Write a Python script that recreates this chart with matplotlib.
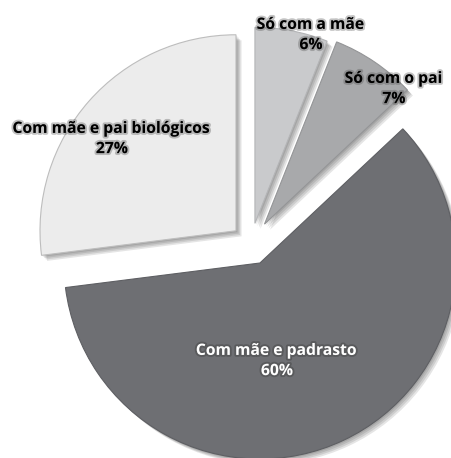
import matplotlib.pyplot as plt
import matplotlib.patheffects as pe

# Living arrangement shares (%)
labels = ["Só com a mãe", "Só com o pai", "Com mãe e padrasto", "Com mãe e pai biológicos"]
shares = [6, 7, 60, 27]
colors = ["#c9cacc", "#a8a9ab", "#6e6f73", "#ececec"]
edges = ["#b4b5b7", "#949597", "#5e5f63", "#bdbdbd"]

fig = plt.figure(figsize=(4.52, 4.58), dpi=100)
ax = fig.add_axes([0, 0, 1, 1])

wedges, _ = ax.pie(shares, colors=colors, startangle=90, counterclock=False,
                   center=(251, 214), radius=196, explode=[21, 24, 21, 20],
                   wedgeprops=dict(linewidth=0.8), frame=True)

# pixel-like coordinates, y pointing up
ax.set_xlim(0, 452)
ax.set_ylim(0, 458)
ax.set_aspect("equal")
ax.axis("off")

# soft drop shadow built from a few faint offset copies
shadow = [pe.SimplePatchShadow(offset=(d, -d), shadow_rgbFace="black", alpha=0.10)
          for d in (1, 2, 3, 4)]
for w, ec in zip(wedges, edges):
    w.set_edgecolor(ec)
    w.set_path_effects(shadow + [pe.Normal()])

# label positions (center of the two-line text)
label_pos = [(311, 423), (394, 369), (277, 97), (112, 319)]
text_colors = ["black", "black", "white", "black"]

for lab, val, (x, y), tc in zip(labels, shares, label_pos, text_colors):
    glow = "#555555" if tc == "black" else "#333333"
    ax.text(x, y, f"{lab}\n{val}%", ha="center", va="center", fontsize=11.3,
            fontfamily="Open Sans", fontweight="bold", color=tc, linespacing=1.35,
            path_effects=[pe.Stroke(linewidth=2.8, foreground=glow, alpha=0.35),
                          pe.Normal()])

fig.savefig("out.png", dpi=100)
